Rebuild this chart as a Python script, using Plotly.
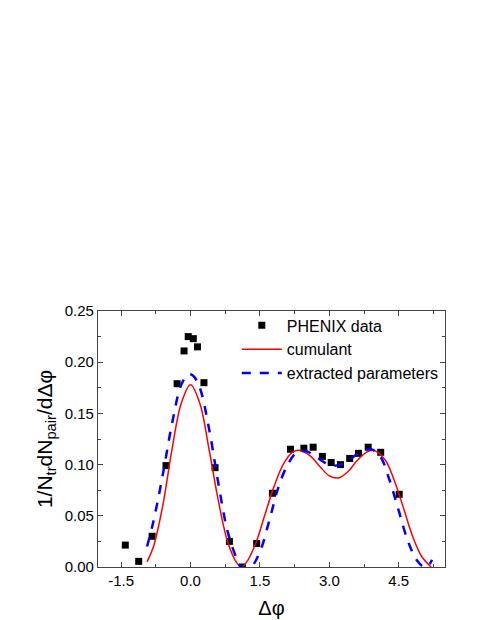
import plotly.graph_objects as go

data_x = [-1.41,-1.12,-0.83,-0.53,-0.29,-0.14,-0.05,0.06,0.15,0.29,0.53,0.84,1.12,1.43,1.77,2.16,2.45,2.65,2.85,3.04,3.24,3.44,3.63,3.84,4.11,4.51]
data_y = [0.0214,0.0055,0.030,0.099,0.179,0.211,0.225,0.223,0.215,0.180,0.097,0.025,0.0,0.023,0.072,0.115,0.116,0.117,0.108,0.102,0.100,0.106,0.111,0.117,0.112,0.071]

cum_x = [-0.94,-0.8,-0.6,-0.4,-0.2,0,0.2,0.4,0.6,0.8,1.0,1.1,1.2,1.4,1.6,1.8,2.0,2.2,2.35,2.6,2.8,3.0,3.2,3.4,3.6,3.8,3.95,4.2,4.4,4.6,4.8,5.0,5.2]
cum_y = [0.005,0.02,0.06,0.115,0.16,0.178,0.16,0.115,0.065,0.025,0.004,0.0,0.004,0.022,0.05,0.078,0.1,0.112,0.114,0.108,0.098,0.089,0.087,0.093,0.104,0.112,0.114,0.105,0.085,0.058,0.03,0.01,0.0]

ext_x = [-0.94,-0.8,-0.6,-0.4,-0.2,-0.05,0.05,0.2,0.4,0.6,0.8,1.0,1.1,1.3,1.5,1.7,1.9,2.1,2.3,2.5,2.7,2.9,3.1,3.3,3.5,3.7,3.9,4.1,4.3,4.5,4.7,4.9,5.05,5.15,5.22]
ext_y = [0.02,0.045,0.09,0.14,0.178,0.188,0.187,0.175,0.135,0.082,0.035,0.008,0.0,0.0,0.015,0.045,0.078,0.1,0.112,0.113,0.108,0.102,0.099,0.101,0.107,0.113,0.115,0.108,0.085,0.055,0.025,0.006,0.0,0.002,0.007]

x_ticks = [-1.5, 0.0, 1.5, 3.0, 4.5]
y_ticks = [0.00, 0.05, 0.10, 0.15, 0.20, 0.25]

fig = go.Figure()
fig.add_trace(go.Scatter(x=data_x, y=data_y, mode="markers", name="PHENIX data",
                         marker=dict(symbol="square", size=7, color="black")))
fig.add_trace(go.Scatter(x=cum_x, y=cum_y, mode="lines", name="cumulant",
                         line=dict(color="red", width=1.5, shape="spline")))
fig.add_trace(go.Scatter(x=ext_x, y=ext_y, mode="lines", name="extracted parameters",
                         line=dict(color="blue", width=2.5, dash="dash", shape="spline")))

ax = dict(showline=True, linecolor="#444", linewidth=1.2, mirror="ticks", ticks="inside",
          ticklen=5, tickcolor="#444", showgrid=False, zeroline=False,
          tickfont=dict(family="Liberation Sans, Arial", size=15, color="black"))
fig.update_layout(
    width=479, height=620, plot_bgcolor="white", paper_bgcolor="white",
    margin=dict(l=90, r=42, t=303, b=61),
    font=dict(family="Liberation Sans, Arial", color="black"),
    xaxis=dict(ax, range=[-2.0, 5.5], tickvals=x_ticks, ticktext=[f"{v:.1f}" for v in x_ticks],
               minor=dict(ticks="inside", ticklen=3, tickcolor="#444", dtick=0.75, tick0=0),
               title=dict(text="Δφ", font=dict(size=20), standoff=12)),
    yaxis=dict(ax, range=[0, 0.25], tickvals=y_ticks, ticktext=[f"{v:.2f}" for v in y_ticks],
               minor=dict(ticks="inside", ticklen=3, tickcolor="#444", dtick=0.025, tick0=0),
               title=dict(text="1/N<sub>tr</sub>dN<sub>pair</sub>/dΔφ", font=dict(size=21), standoff=6)),
    legend=dict(x=0.40, y=1.01, xanchor="left", yanchor="top", bgcolor="rgba(0,0,0,0)",
                font=dict(size=16), itemwidth=40, tracegroupgap=0),
    showlegend=True,
)
fig.write_html("out.html")
